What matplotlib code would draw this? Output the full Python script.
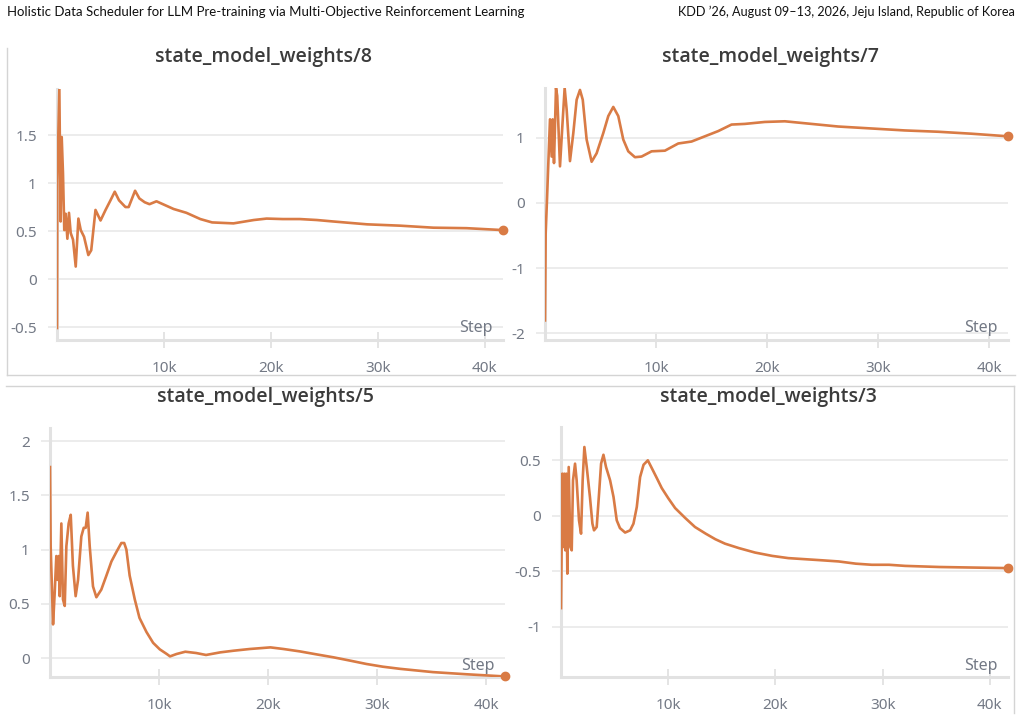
import matplotlib
matplotlib.use("Agg")
import matplotlib.pyplot as plt
from matplotlib.lines import Line2D
from matplotlib.ticker import FuncFormatter

plt.rcParams['axes.unicode_minus'] = False

# steps in thousands
x8 = [0, 0.03, 0.22, 0.34, 0.44, 0.56, 0.68, 0.81, 0.97, 1.12, 1.28, 1.5, 1.75, 2.0, 2.22, 2.53,
      2.93, 3.2, 3.6, 4.07, 4.54, 5.0, 5.4, 5.8, 6.4, 6.7, 7.3, 7.7, 8.2, 8.65, 9.3, 9.9, 10.9,
      12.1, 13.4, 14.5, 16.5, 18.4, 19.6, 21.1, 22.7, 24.3, 25.8, 29, 32.1, 35.2, 38.3, 41.7]
y8 = [-0.51, 1.03, 1.98, 0.6, 1.48, 1.1, 0.51, 0.68, 0.42, 0.69, 0.48, 0.41, 0.13, 0.63, 0.51, 0.44,
      0.25, 0.3, 0.72, 0.61, 0.72, 0.82, 0.91, 0.82, 0.75, 0.75, 0.92, 0.84, 0.8, 0.78, 0.81, 0.78, 0.73,
      0.69, 0.625, 0.59, 0.58, 0.615, 0.63, 0.625, 0.625, 0.615, 0.6, 0.57, 0.556, 0.535, 0.53, 0.51]

x7 = [0, 0.06, 0.18, 0.3, 0.45, 0.6, 0.69, 0.81, 0.99, 1.1, 1.35, 1.56, 1.77, 1.95, 2.25, 2.55,
      2.85, 3.15, 3.4, 3.75, 4.2, 4.65, 5.25, 5.7, 6.15, 6.6, 7.05, 7.5, 8.1, 8.7, 9.6, 10.8, 12,
      13.2, 14.4, 15.6, 16.8, 18, 19.8, 21.6, 23.4, 26.4, 29.4, 32.4, 35.4, 38.4, 41.7]
y7 = [-1.8, -0.47, 0.05, 0.61, 1.28, 0.71, 1.28, 0.61, 1.76, 1.64, 0.56, 1.17, 1.76, 1.43, 0.64, 1.07,
      1.58, 1.73, 1.58, 0.97, 0.63, 0.76, 1.07, 1.33, 1.47, 1.33, 0.97, 0.79, 0.7, 0.71, 0.79, 0.8, 0.91,
      0.94, 1.02, 1.1, 1.2, 1.21, 1.24, 1.25, 1.22, 1.17, 1.14, 1.11, 1.09, 1.06, 1.02]

x5 = [0, 0.06, 0.28, 0.43, 0.58, 0.7, 0.8, 0.89, 1.04, 1.19, 1.35, 1.5, 1.71, 1.9, 2.1, 2.35,
      2.57, 2.87, 3.09, 3.27, 3.45, 3.64, 3.94, 4.25, 4.7, 5.17, 5.63, 6.1, 6.54, 6.8, 7.0, 7.3,
      7.77, 8.2, 8.84, 9.45, 10.06, 10.7, 11.0, 11.6, 12.4, 13.4, 14.3, 15.6, 16.8, 18.3, 20.2,
      21.4, 22.9, 24.4, 26, 27.5, 29, 30.5, 32.1, 35.1, 38.2, 41.7]
y5 = [1.76, 1.03, 0.31, 0.6, 0.94, 0.72, 0.94, 0.57, 1.24, 0.54, 0.48, 1.03, 1.24, 1.32, 0.85, 0.57,
      0.72, 1.12, 1.2, 1.2, 1.34, 1.03, 0.66, 0.56, 0.63, 0.76, 0.89, 0.98, 1.06, 1.06, 1.0, 0.76,
      0.54, 0.37, 0.24, 0.14, 0.08, 0.037, 0.015, 0.037, 0.058, 0.046, 0.028, 0.052, 0.067, 0.083, 0.098,
      0.083, 0.061, 0.034, 0.006, -0.024, -0.055, -0.08, -0.1, -0.13, -0.15, -0.17]

x3 = [0, 0.06, 0.12, 0.22, 0.31, 0.4, 0.5, 0.59, 0.72, 0.87, 1.0, 1.12, 1.31, 1.46, 1.68, 1.87,
      2.02, 2.18, 2.4, 2.7, 2.93, 3.08, 3.33, 3.55, 3.74, 3.96, 4.2, 4.58, 4.9, 5.2, 5.5, 5.98,
      6.45, 6.76, 7.07, 7.38, 7.7, 8.1, 8.47, 8.94, 9.4, 10.0, 10.65, 11.6, 12.5, 13.5, 14.4, 15.3,
      16.6, 18.1, 19.7, 21.2, 22.8, 24.4, 25.9, 27.5, 29, 30.6, 32.1, 35.3, 38.4, 41.7]
y3 = [-0.83, -0.28, 0.38, -0.28, 0.38, -0.31, 0.38, -0.52, 0.44, -0.28, -0.31, 0.32, 0.47, 0.32, -0.04, -0.16,
      0.32, 0.62, 0.44, 0.17, -0.07, -0.13, -0.1, 0.2, 0.47, 0.55, 0.44, 0.32, 0.17, -0.04, -0.11, -0.15,
      -0.13, -0.07, 0.08, 0.35, 0.46, 0.5, 0.43, 0.34, 0.25, 0.16, 0.07, -0.02, -0.1, -0.16, -0.21, -0.25,
      -0.29, -0.33, -0.36, -0.38, -0.39, -0.4, -0.41, -0.43, -0.44, -0.44, -0.45, -0.46, -0.465, -0.47]

titles = ["state_model_weights/8", "state_model_weights/7", "state_model_weights/5", "state_model_weights/3"]
yticks8 = [-0.5, 0, 0.5, 1, 1.5]
yticks7 = [-2, -1, 0, 1]
yticks5 = [0, 0.5, 1, 1.5, 2]
yticks3 = [-1, -0.5, 0, 0.5]
xticks = [10, 20, 30, 40]

header_left = "Holistic Data Scheduler for LLM Pre-training via Multi-Objective Reinforcement Learning"
header_right = "KDD \u201926, August 09\u201313, 2026, Jeju Island, Republic of Korea"

ORANGE = "#d97b45"
GRID = "#ebebeb"
SPINE = "#e2e2e2"
TICKTXT = "#737985"
TITLE = "#3b3b3b"
W, H = 1022, 720

fig = plt.figure(figsize=(W / 100, H / 100), dpi=100)


def rect(l, t, r, b):
    # pixel box -> figure fraction
    return [l / W, 1 - b / H, (r - l) / W, (b - t) / H]


def ylab(v, pos):
    return ("%g" % v)


def panel(box, xs, ys, yticks, ylim, title, title_xy):
    ax = fig.add_axes(rect(*box))
    ax.plot(xs, ys, color=ORANGE, lw=1.9, solid_joinstyle="round", zorder=3)
    ax.plot(xs[-1:], ys[-1:], "o", color=ORANGE, ms=6, clip_on=False, zorder=4)
    ax.set_xlim(0, xs[-1])
    ax.set_ylim(*ylim)
    ax.set_yticks(yticks)
    ax.yaxis.set_major_formatter(FuncFormatter(ylab))
    ax.set_xticks(xticks)
    ax.set_xticklabels(["%dk" % t for t in xticks])
    ax.grid(axis="y", color=GRID, lw=1.3)
    ax.set_axisbelow(True)
    for s in ["top", "right"]:
        ax.spines[s].set_visible(False)
    for s in ["left", "bottom"]:
        ax.spines[s].set_color(SPINE)
        ax.spines[s].set_linewidth(2.2)
    ax.tick_params(axis="y", length=6.5, width=1.3, color=GRID, labelsize=11,
                   labelcolor=TICKTXT, pad=8)
    ax.tick_params(axis="x", direction="inout", length=12, width=1.3, color=SPINE,
                   labelsize=11, labelcolor=TICKTXT, pad=9)
    for lab in ax.get_xticklabels() + ax.get_yticklabels():
        lab.set_family("Noto Sans")
    ax.text(0.977, 0.03, "Step", transform=ax.transAxes, ha="right", va="baseline",
            fontsize=11.5, color=TICKTXT, family="Noto Sans")
    fig.text(title_xy[0] / W, 1 - title_xy[1] / H, title, ha="center", va="center",
             fontsize=14, fontweight="semibold", color=TITLE, family="Open Sans")
    return ax


panel((57, 89, 503, 340), x8, y8, yticks8, (-0.635, 1.98), titles[0], (263, 57))
panel((545, 88, 1008, 340), x7, y7, yticks7, (-2.1, 1.76), titles[1], (770, 57))
panel((50, 428, 505, 677), x5, y5, yticks5, (-0.175, 2.12), titles[2], (265, 397))
panel((561, 427, 1008, 677), x3, y3, yticks3, (-1.45, 0.8), titles[3], (768, 397))

# screenshot frame lines
frame = [((7, 7), (48, 375)), ((7, 1015), (375, 375)),
         ((6, 1014), (386, 386)), ((1014, 1014), (386, 713))]
for (xa, xb), (ya, yb) in frame:
    fig.add_artist(Line2D([xa / W, xb / W], [1 - ya / H, 1 - yb / H], color="#d4d4d4", lw=1.0))

fig.text(7 / W, 1 - 12 / H, header_left, ha="left", va="center", fontsize=9.5, family="Lato", color="#111111")
fig.text(1015 / W, 1 - 12 / H, header_right, ha="right", va="center", fontsize=9.1, family="Lato", color="#111111")

fig.savefig("out.png", dpi=100, facecolor="white")
